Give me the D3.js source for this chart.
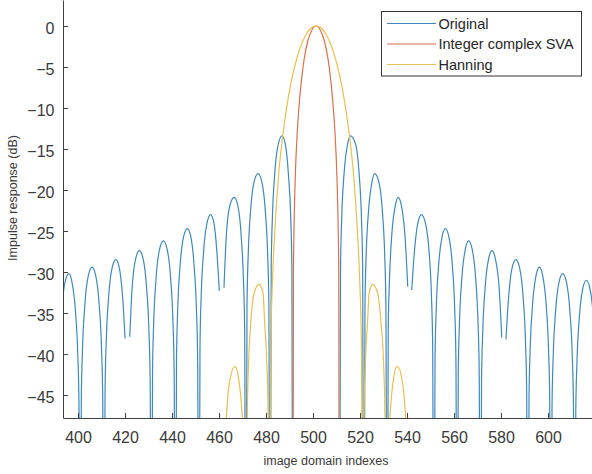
<!DOCTYPE html>
<html>
<head>
<meta charset="utf-8">
<script src="https://cdn.jsdelivr.net/npm/d3@7"></script>
<style>
  body { margin: 0; background: #fff; }
  svg { display: block; font-family: "Liberation Sans", Arial, sans-serif; }
  .tick text { fill: #3a3a3a; font-size: 16px; }
  .axis path, .axis line { stroke: #404040; }
  .label { fill: #3a3a3a; font-size: 12.5px; }
  .legend text { fill: #262626; font-size: 14.5px; }
</style>
</head>
<body>
<div id="chart"></div>
<script>
// tick values
const xTicks = [400, 420, 440, 460, 480, 500, 520, 540, 560, 580, 600];
const yTicks = [-45, -40, -35, -30, -25, -20, -15, -10, -5, 0];

// series names
const seriesNames = ['Original', 'Integer complex SVA', 'Hanning'];

// [index, dB]; null = line break, -80 = deep null below the axis
// (the Original main lobe sits under the SVA one and is not seen)
const original = [
  [391.0,-80],[391.5,-46.2],[392.0,-40.2],[393.0,-34.8],[394.5,-31.2],[396.1,-30.2],[397.4,-31.2],[398.9,-34.8],[399.9,-40.2],[400.4,-46.2],[400.9,-80],
  [401.4,-45.4],[401.9,-39.4],[402.9,-34.0],[404.4,-30.4],[406.0,-29.4],[407.5,-30.4],[409.0,-34.0],[410.0,-39.4],[410.5,-45.4],[411.0,-80],
  [411.5,-44.5],[412.0,-38.5],[413.0,-33.1],[414.5,-29.5],[416.1,-28.5],[417.5,-29.4],[418.5,-31.5],[419.0,-33.1],[420.0,-38.1],[421.0,null],
  [422.0,-37.9],[423.0,-32.0],[424.5,-28.4],[426.1,-27.4],[427.7,-28.4],[429.2,-32.0],[430.2,-37.4],[430.7,-43.4],[431.2,-80],
  [431.7,-42.2],[432.2,-36.2],[433.2,-30.8],[434.7,-27.2],[436.3,-26.2],[437.9,-27.2],[439.4,-30.8],[440.4,-36.2],[440.9,-42.2],[441.4,-80],
  [441.9,-40.7],[442.4,-34.7],[443.4,-29.3],[444.9,-25.7],[446.5,-24.7],[448.0,-25.7],[449.4,-29.3],[450.4,-34.7],[450.9,-40.7],[451.4,-80],
  [451.9,-39.0],[452.4,-33.0],[453.4,-27.6],[454.9,-24.0],[456.4,-23.0],[457.8,-24.0],[459.1,-27.6],[460.1,-32.3],[461.1,null],
  [462.1,-31.9],[463.1,-25.5],[464.6,-21.9],[466.4,-20.9],[468.0,-21.9],[469.4,-25.5],[470.4,-31.1],[470.9,-37.0],[471.4,-80],
  [471.9,-34.0],[472.4,-28.0],[473.4,-22.6],[474.9,-19.0],[476.6,-18.0],[478.2,-19.0],[479.7,-22.6],[480.7,-28.0],[481.2,-34.0],[481.7,-80],
  [482.2,-29.4],[482.7,-23.4],[483.7,-18.0],[485.2,-14.4],[486.8,-13.4],[488.2,-14.4],[489.5,-18.0],[490.5,-23.4],[491.0,-29.4],[491.4,-80],
  [501.3,null],
  [511.2,-80],
  [511.7,-29.4],[512.2,-23.4],[513.2,-18.0],[514.7,-14.4],[515.9,-13.4],[518.1,-14.4],[519.6,-18.0],[520.6,-23.4],[521.1,-29.4],[521.6,-80],
  [522.1,-34.0],[522.6,-28.0],[523.6,-22.6],[525.1,-19.0],[526.2,-18.0],[528.0,-19.0],[529.5,-22.6],[530.5,-28.0],[531.0,-34.0],[531.5,-80],
  [532.0,-36.9],[532.5,-31.1],[533.5,-25.5],[535.0,-21.9],[536.2,-20.9],[537.6,-21.9],[538.6,-23.9],[539.1,-25.5],[540.3,-31.8],[541.1,null],
  [542.0,-32.2],[543.1,-27.6],[544.6,-24.0],[546.1,-23.0],[547.8,-24.0],[549.4,-27.6],[550.4,-33.0],[550.9,-39.0],[551.4,-80],
  [551.9,-40.7],[552.4,-34.7],[553.4,-29.3],[554.9,-25.7],[556.3,-24.7],[557.8,-25.7],[559.3,-29.3],[560.3,-34.7],[560.8,-40.7],[561.3,-80],
  [561.8,-42.2],[562.3,-36.2],[563.3,-30.8],[564.8,-27.2],[566.2,-26.2],[567.7,-27.2],[569.2,-30.8],[570.2,-36.2],[570.7,-42.2],[571.2,-80],
  [571.7,-43.4],[572.2,-37.4],[573.2,-32.0],[574.7,-28.4],[576.1,-27.4],[577.6,-28.4],[578.7,-30.4],[579.2,-32.0],[580.3,-38.0],[581.2,null],
  [582.1,-38.2],[583.2,-33.1],[584.7,-29.5],[586.3,-28.5],[587.9,-29.5],[589.4,-33.1],[590.4,-38.5],[590.9,-44.5],[591.4,-80],
  [591.9,-45.4],[592.4,-39.4],[593.4,-34.0],[594.9,-30.4],[596.3,-29.4],[597.7,-30.4],[599.2,-34.0],[600.2,-39.4],[600.7,-45.4],[601.2,-80],
  [601.7,-46.2],[602.2,-40.2],[603.2,-34.8],[604.7,-31.2],[606.2,-30.2],[607.8,-31.2],[609.3,-34.8],[610.3,-40.2],[610.8,-46.2],[611.3,-80],
  [611.8,-47.0],[612.3,-41.0],[613.3,-35.6],[614.8,-32.0],[616.3,-31.0],[617.8,-32.0],[619.3,-35.6],[620.3,-41.0]
];

// SVA keeps only the main lobe
const sva = [
  [491.4,-80],[491.65,-30.2],[491.85,-25.6],[492.35,-19.2],[493.35,-12.6],[494.35,-8.7],[495.35,-5.9],[496.3,-3.9],[497.8,-1.8],[499.3,-0.6],[501.3,0],
  [503.3,-0.6],[504.8,-1.8],[506.3,-3.9],[507.25,-5.9],[508.25,-8.7],[509.25,-12.6],[510.25,-19.2],[510.75,-25.6],[510.95,-30.2],[511.2,-80]
];

const hanning = [
  [461.5,-80],[462.5,-51.7],[463.5,-46.1],[464.5,-43.3],[466.8,-41.5],[468.5,-43.3],[469.5,-46.1],[470.5,-51.7],[471.5,-80],
  [472.0,-47.6],[472.5,-41.7],[473.5,-36.1],[475.0,-32.5],[477.0,-31.5],[478.7,-32.5],[479.4,-36.1],[480.4,-41.7],[480.9,-47.6],[481.4,-80],
  [482.0,-39.1],[482.8,-30.6],[483.8,-24.6],[485.3,-18.3],[487.3,-12.95],[489.3,-9.0],[491.3,-6.0],[493.3,-3.75],[495.3,-2.07],[497.3,-0.91],[499.3,-0.22],[501.3,0],
  [503.3,-0.22],[505.3,-0.91],[507.3,-2.07],[509.3,-3.75],[511.3,-6.0],[513.3,-9.0],[515.3,-12.95],[517.3,-18.3],[518.8,-24.6],[519.8,-30.6],[520.6,-39.1],[521.2,-80],
  [521.7,-47.6],[522.2,-41.7],[523.2,-36.1],[523.9,-32.5],[525.4,-31.5],[527.4,-32.5],[528.9,-36.1],[530.1,-41.7],[530.6,-47.6],[531.1,-80],
  [532.1,-51.7],[533.1,-46.1],[534.1,-43.3],[535.8,-41.5],[538.0,-43.3],[539.0,-46.1],[540.0,-51.7],[541.0,-80]
];

const colors = ['#3f88bd', '#d8714d', '#e8bf52'];

const width = 592, height = 474;
const margin = { top: 0, right: 0, bottom: 56, left: 63 };
const plotW = width - margin.left - margin.right;
const plotH = height - margin.top - margin.bottom;

const svg = d3.select('#chart').append('svg')
  .attr('width', width)
  .attr('height', height);

const xScale = d3.scaleLinear().domain([393.6, 618.7]).range([0, plotW]);
const yScale = d3.scaleLinear().domain([-47.8, 3.17]).range([plotH, 0]);

const chart = svg.append('g')
  .attr('transform', `translate(${margin.left},${margin.top})`);

chart.append('clipPath').attr('id', 'clip')
  .append('rect').attr('width', plotW).attr('height', plotH);

const line = d3.line()
  .defined(d => d[1] !== null)
  .x(d => xScale(d[0]))
  .y(d => yScale(d[1]))
  .curve(d3.curveMonotoneX);

const lines = chart.append('g').attr('clip-path', 'url(#clip)');
[original, sva, hanning].forEach((s, i) => {
  lines.append('path')
    .datum(s)
    .attr('fill', 'none')
    .attr('stroke', colors[i])
    .attr('stroke-width', 1.2)
    .attr('d', line);
});

// axes, ticks pointing inward
const xAxis = chart.append('g').attr('class', 'axis')
  .attr('transform', `translate(0,${plotH})`)
  .call(d3.axisBottom(xScale).tickValues(xTicks).tickSizeInner(-5).tickSizeOuter(0).tickPadding(13.5));
const yAxis = chart.append('g').attr('class', 'axis')
  .call(d3.axisLeft(yScale).tickValues(yTicks).tickSizeInner(-5).tickSizeOuter(0).tickPadding(8.5));
yAxis.selectAll('.tick text').attr('dy', '0.45em');
chart.selectAll('.axis .domain').attr('stroke-width', 1);

svg.append('text').attr('class', 'label')
  .attr('x', 326).attr('y', 465)
  .attr('text-anchor', 'middle')
  .text('image domain indexes');
svg.append('text').attr('class', 'label')
  .attr('transform', 'translate(17,198)rotate(-90)')
  .attr('text-anchor', 'middle')
  .text('Impulse response (dB)');

// legend
const legend = svg.append('g').attr('class', 'legend');
legend.append('rect')
  .attr('x', 381.5).attr('y', 11.5)
  .attr('width', 200).attr('height', 64.5)
  .attr('fill', '#fff').attr('stroke', '#333').attr('stroke-width', 1);
seriesNames.forEach((name, i) => {
  const y = 23.5 + i * 20.5;
  legend.append('line')
    .attr('x1', 387).attr('x2', 436)
    .attr('y1', y).attr('y2', y)
    .attr('stroke', colors[i]).attr('stroke-width', 1.2);
  legend.append('text')
    .attr('x', 438.5).attr('y', y + 5)
    .text(name);
});
</script>
</body>
</html>
